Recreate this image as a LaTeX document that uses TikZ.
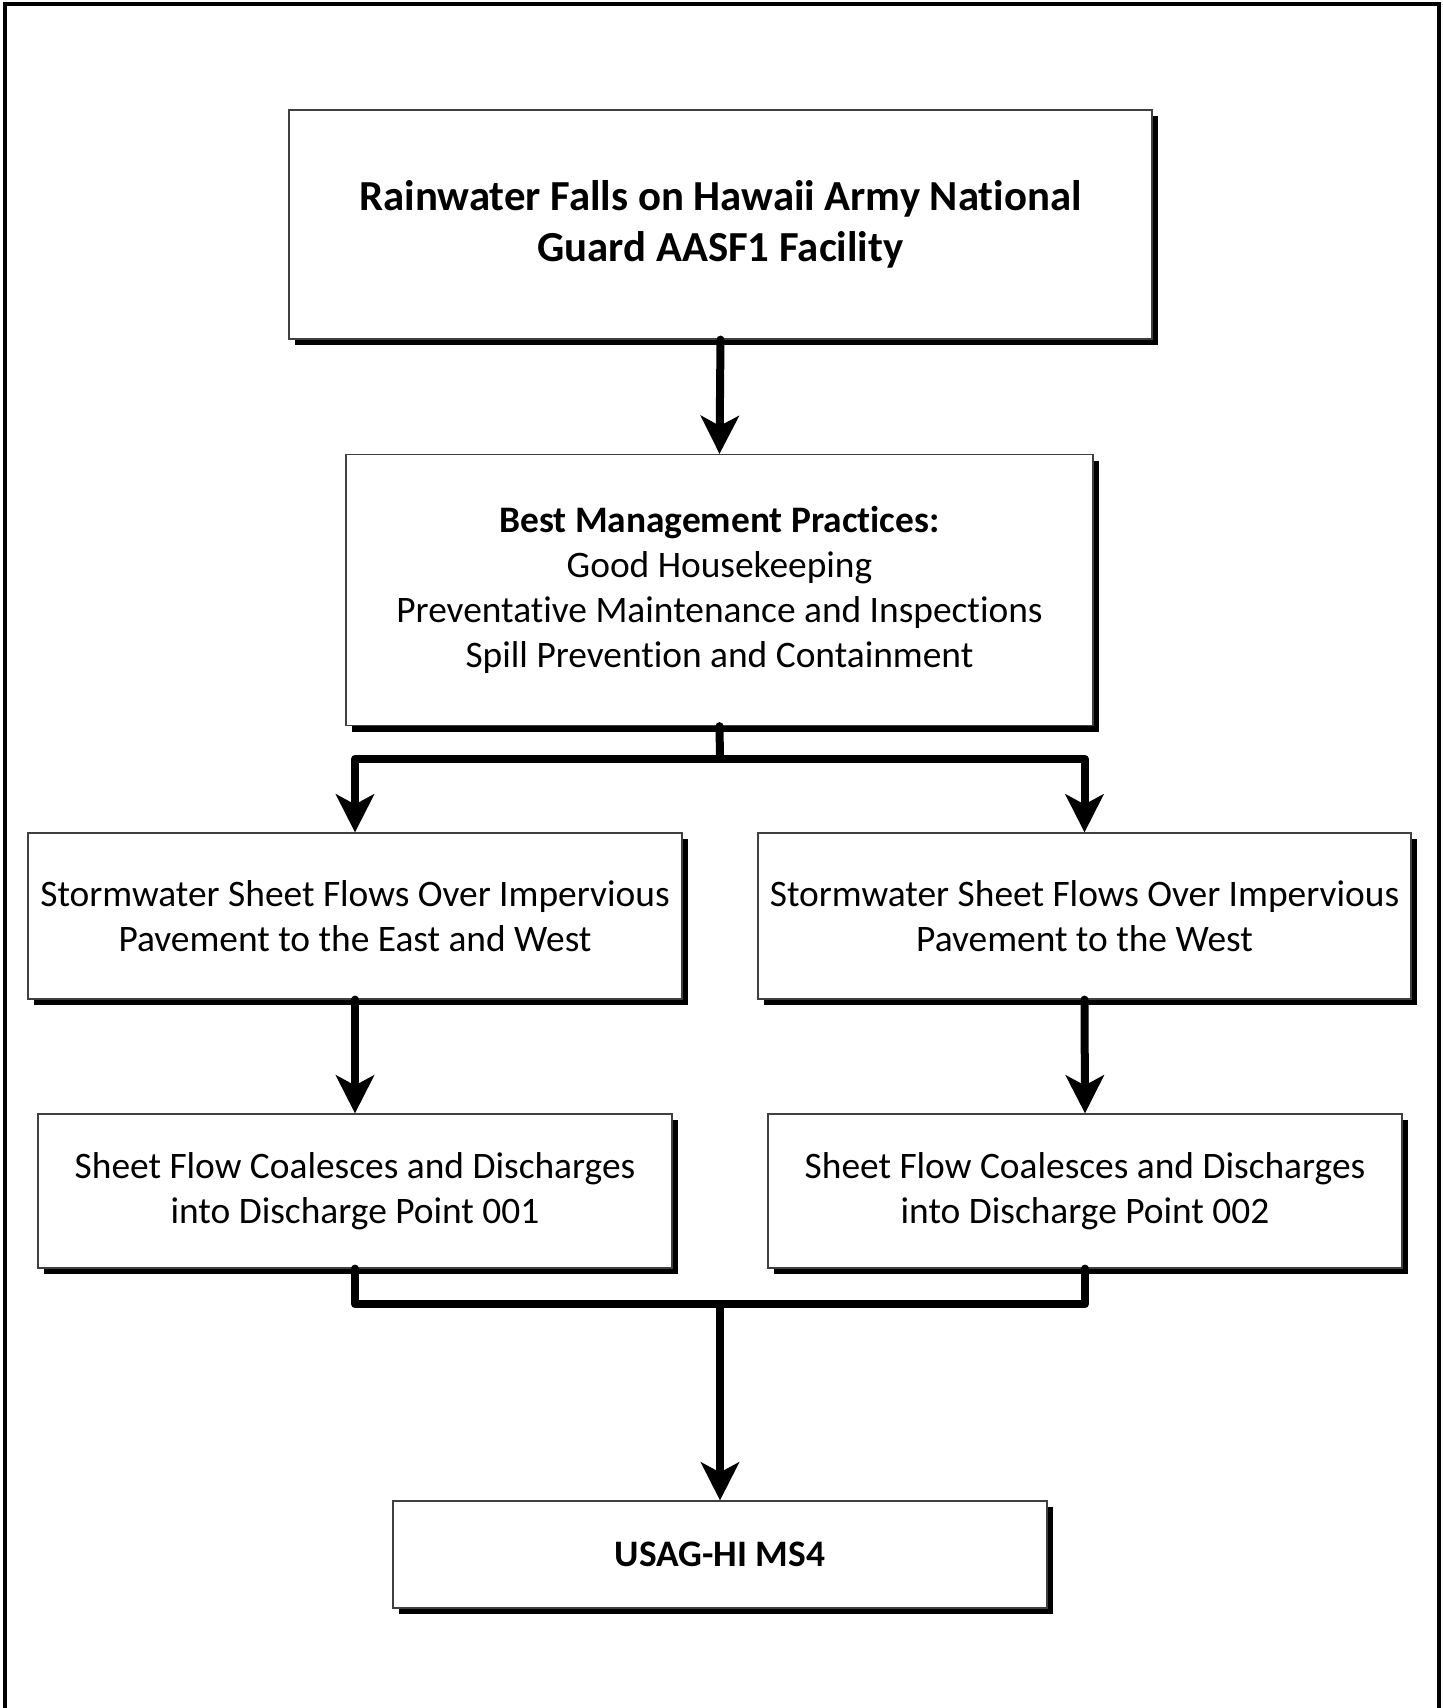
\documentclass[tikz,border=0pt]{standalone}
\usepackage{fontspec}
\setmainfont[Ligatures=NoCommon]{Carlito}
\usetikzlibrary{arrows.meta,shadows}
\tikzset{
  box/.style={draw=black!75, line width=0.6pt, fill=white, align=center, inner sep=0pt,
    drop shadow={shadow xshift=3pt, shadow yshift=-3pt, fill=black, opacity=1},
    font=\fontsize{18.7}{22.5}\selectfont},
  conn/.style={line width=4pt, line join=round, line cap=round},
  arr/.style={conn, -{Stealth[length=19pt,width=19pt,inset=5pt]}},
}
\begin{document}
\begin{tikzpicture}[x=0.5pt,y=-0.5pt]
\useasboundingbox (0,0) rectangle (1442,1708);
\fill[white] (0,0) rectangle (1442,1708);
\draw[line width=2pt] (5,1710) -- (5,4) -- (1439,4) -- (1439,1710);

\node[box, minimum width=431.5pt, minimum height=114.5pt, font=\fontsize{21.4}{25.3}\selectfont\bfseries] (b1) at (720.5,224.5)
  {Rainwater Falls on Hawaii Army National\\Guard AASF1 Facility};
\node[box, minimum width=373.5pt, minimum height=135.5pt] (b2) at (719.5,590)
  {\textbf{Best Management Practices:}\\Good Housekeeping\\Preventative Maintenance and Inspections\\Spill Prevention and Containment};
\node[box, minimum width=327pt, minimum height=83pt] (b3l) at (355,916)
  {Stormwater Sheet Flows Over Impervious\\Pavement to the East and West};
\node[box, minimum width=326.5pt, minimum height=83pt] (b3r) at (1084.5,916)
  {Stormwater Sheet Flows Over Impervious\\Pavement to the West};
\node[box, minimum width=317pt, minimum height=77pt] (b4l) at (355,1191)
  {Sheet Flow Coalesces and Discharges\\into Discharge Point 001};
\node[box, minimum width=317pt, minimum height=77pt] (b4r) at (1085,1191)
  {Sheet Flow Coalesces and Discharges\\into Discharge Point 002};
\node[box, minimum width=327pt, minimum height=53.5pt, font=\fontsize{18.7}{22.5}\selectfont\bfseries] (b5) at (720,1554.5)
  {USAG-HI MS4};

\coordinate (j1) at (720,759);
\coordinate (j2) at (720,1304);

\draw[arr] (b1.south) -- (b2.north);
\draw[conn] (b2.south) -- (j1);
\draw[arr] (j1) -| (b3l.north);
\draw[arr] (j1) -| (b3r.north);
\draw[arr] (b3l.south) -- (b4l.north);
\draw[arr] (b3r.south) -- (b4r.north);
\draw[conn] (b4l.south) |- (j2);
\draw[conn] (b4r.south) |- (j2);
\draw[arr] (j2) -- (b5.north);
\end{tikzpicture}
\end{document}
